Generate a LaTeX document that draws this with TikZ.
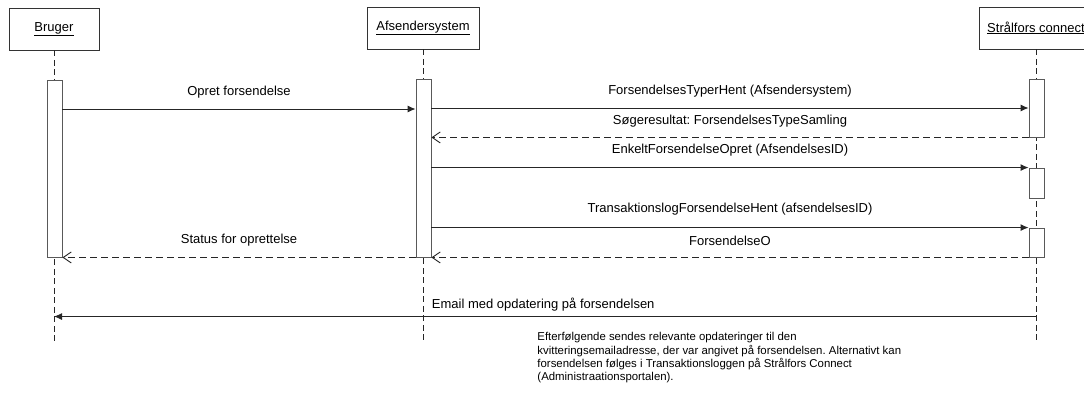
\documentclass[tikz,border=0pt]{standalone}
\usepackage{fontspec}
\setmainfont{Liberation Sans}
\frenchspacing
\newcommand{\thickul}[1]{\leavevmode\vtop{\hbox{#1}\kern1.2pt\hrule height 0.9pt}}
\usetikzlibrary{arrows.meta, shapes, positioning}

\begin{document}
\begin{tikzpicture}[x=1pt, y=-1pt, line width=0.9pt, font=\fontsize{13}{15}\selectfont,
	actor/.style={draw=black!80, rectangle, minimum height=42pt, inner sep=0pt, text centered},
	actbar/.style={draw=black!65, fill=white, rectangle, minimum width=15pt, inner sep=0pt},
	lifeline/.style={draw=black!85, dash pattern=on 6pt off 3.5pt},
	call/.style={draw=black!85, -{Latex[length=8pt, width=7pt]}},
	reply/.style={draw=black!85, dash pattern=on 7pt off 4pt, -{Straight Barb[length=8pt, width=11pt]}},
	msg/.style={midway, yshift=17pt}]
	     \useasboundingbox (0,0) rectangle (1084,392);
	     \clip (0,0) rectangle (1084,392);

	     % nodes %
		 \node[actor, minimum width=90pt] (bruger) at (54,29) {\thickul{Bruger}};
		 \node[actor, minimum width=112pt] (afs) at (423,28) {\thickul{Afsendersystem}};
		 \node[actor, minimum width=114pt] (stral) at (1036,28) {\thickul{Strålfors connect}};

		 \coordinate (brugerend) at (54,343);
		 \coordinate (afsend) at (423,343);
		 \coordinate (stralend) at (1036,340);

		 % lifelines %
		 \draw[lifeline] (bruger) -- (brugerend);
		 \draw[lifeline] (afs) -- (afsend);
		 \draw[lifeline] (stral) -- (stralend);

		 \node[actbar, minimum height=177pt] (brugerbar) at (54.5,168.5) {};
		 \node[actbar, minimum height=178pt] (afsbar) at (423.5,168) {};
		 \node[actbar, minimum height=58pt] (stralbar) at (1036.5,108) {};
		 \node[actbar, minimum height=30pt] (stralbarb) at (1036.5,183) {};
		 \node[actbar, minimum height=29pt] (stralbarc) at (1036.5,242.5) {};

		 % edges %
		 \draw[call] (brugerbar.east |- 0,109) -- node[msg] (opret) {Opret forsendelse} (afsbar.west |- 0,109);
		 \draw[call] (afsbar.east |- 0,108) -- node[msg] (typerhent) {ForsendelsesTyperHent (Afsendersystem)} (stralbar.west |- 0,108);
		 \draw[reply] (stralbar.south west) -- node[msg, yshift=-1pt] (soeg) {Søgeresultat: ForsendelsesTypeSamling} (afsbar.east |- stralbar.south);
		 \draw[call] (afsbar.east |- stralbarb.north) -- node[msg] (enkelt) {EnkeltForsendelseOpret (AfsendelsesID)} (stralbarb.north west);
		 \draw[call] (afsbar.east |- stralbarc.north) -- node[msg, yshift=1pt] (translog) {TransaktionslogForsendelseHent (afsendelsesID)} (stralbarc.north west);
		 \draw[reply] (stralbarc.south west) -- node[msg] (forsO) {ForsendelseO} (afsbar.south east);
		 \draw[reply] (afsbar.south west) -- node[msg] (status) {Status for oprettelse} (brugerbar.south east);
		 \draw[call] (stral |- 0,316.5) -- node[pos=0.619, anchor=west, yshift=12pt] (email) {Email med opdatering på forsendelsen} (bruger |- 0,316.5);

		 % note %
		 \node[anchor=north west, inner sep=0pt, align=left, font=\fontsize{11.4}{13.3}\selectfont] (note) at (537,332)
		 	{Efterfølgende sendes relevante opdateringer til den\\
		 	 kvitteringsemailadresse, der var angivet på forsendelsen. Alternativt kan\\
		 	 forsendelsen følges i Transaktionsloggen på Strålfors Connect\\
		 	 (Administraationsportalen).};
	     \end{tikzpicture}
\end{document}
